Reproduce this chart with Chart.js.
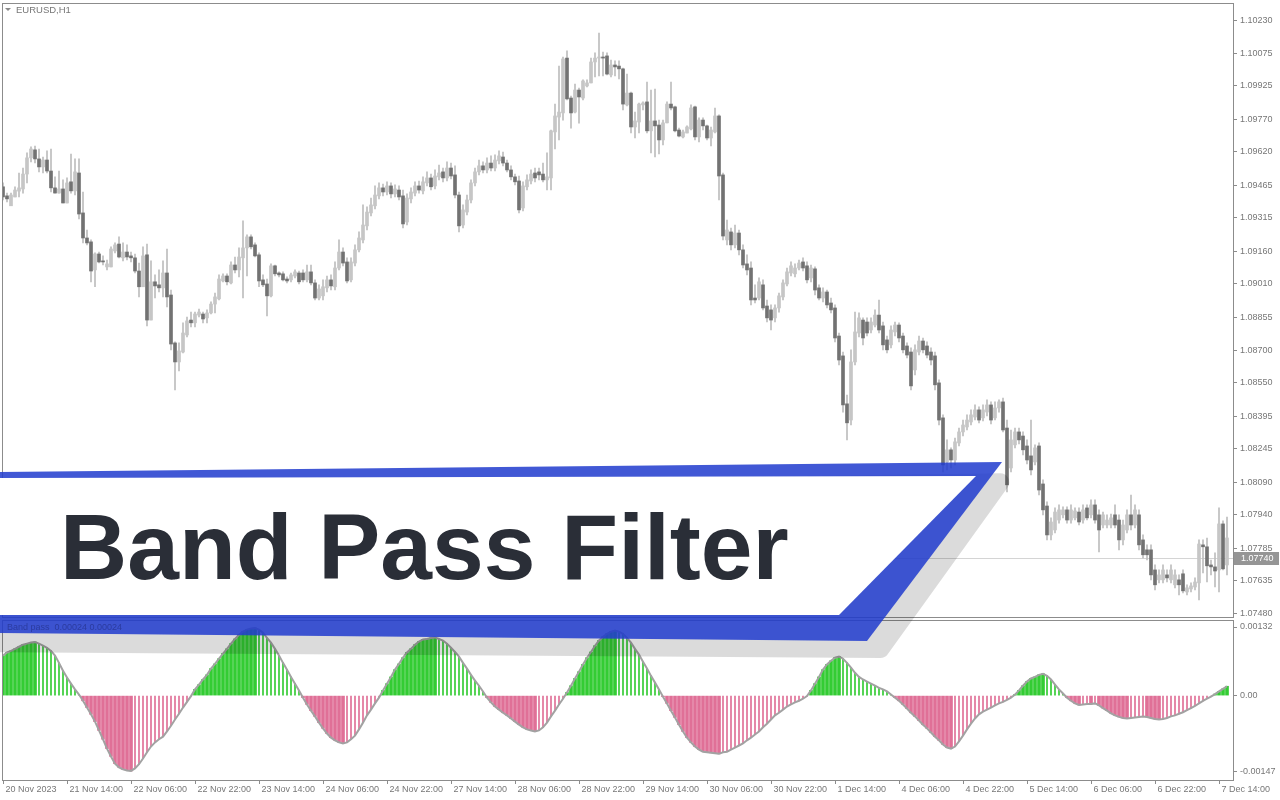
<!DOCTYPE html>
<html>
<head>
<meta charset="utf-8">
<script src="https://cdn.jsdelivr.net/npm/chart.js@4.4.1/dist/chart.umd.min.js"></script>
<style>
  html, body { margin: 0; padding: 0; background: #fff; }
  #wrap { position: relative; width: 1280px; height: 800px; overflow: hidden; background: #fff; }
  canvas { position: absolute; left: 0; }
  #price { top: 0; }
  #osc { top: 619px; }
  #banner { top: 0; pointer-events: none; }
</style>
</head>
<body>
<div id="wrap">
  <canvas id="price" width="1280" height="619"></canvas>
  <canvas id="osc" width="1280" height="181"></canvas>
  <canvas id="banner" width="1280" height="800"></canvas>
</div>
<script>
const symbolLabel = "EURUSD,H1";
const oscLabel = "Band pass  0.00024 0.00024";
const title = "Band Pass Filter";
const lastPrice = 1.07740;

// EURUSD H1 candles, 20 Nov 22:00 -> 7 Dec 16:00
const opens = [
  1.09458,1.09416,1.09370,1.09411,1.09438,1.09448,1.09517,1.09592,1.09629,1.09587,
  1.09550,1.09582,1.09531,1.09453,1.09429,1.09448,1.09383,1.09481,1.09439,1.09522,
  1.09337,1.09221,1.09203,1.09073,1.09147,1.09115,1.09087,1.09087,1.09161,1.09193,
  1.09129,1.09156,1.09138,1.09129,1.09068,1.08995,1.09143,1.08841,1.09018,1.09004,
  1.08990,1.09059,1.08957,1.08735,1.08647,1.08693,1.08772,1.08841,1.08828,1.08864,
  1.08869,1.08851,1.08874,1.08915,1.08939,1.09022,1.09045,1.09013,1.09096,1.09073,
  1.09129,1.09175,1.09226,1.09189,1.09143,1.09027,1.09008,1.08953,1.09092,1.09059,
  1.09055,1.09031,1.09027,1.09045,1.09059,1.09059,1.09027,1.09064,1.09013,1.08943,
  1.08953,1.08990,1.09027,1.08995,1.09082,1.09156,1.09110,1.09027,1.09105,1.09166,
  1.09212,1.09277,1.09337,1.09370,1.09416,1.09453,1.09434,1.09462,1.09425,1.09443,
  1.09416,1.09295,1.09402,1.09429,1.09462,1.09439,1.09476,1.09499,1.09462,1.09504,
  1.09527,1.09499,1.09545,1.09513,1.09420,1.09281,1.09341,1.09397,1.09476,1.09527,
  1.09555,1.09536,1.09568,1.09545,1.09578,1.09596,1.09568,1.09536,1.09504,1.09485,
  1.09360,1.09458,1.09485,1.09522,1.09527,1.09517,1.09490,1.09499,1.09712,1.09781,
  1.09800,1.10054,1.09869,1.09804,1.09906,1.09869,1.09925,1.09939,1.10036,1.10054,
  1.10059,1.10064,1.09976,1.10022,1.10017,1.10004,1.09837,1.09892,1.09735,1.09758,
  1.09837,1.09851,1.09717,1.09763,1.09744,1.09675,1.09754,1.09841,1.09828,1.09721,
  1.09689,1.09707,1.09726,1.09828,1.09689,1.09767,1.09740,1.09684,1.09712,1.09786,
  1.09513,1.09212,1.09249,1.09189,1.09244,1.09166,1.09101,1.09082,1.08943,1.08943,
  1.09004,1.08906,1.08888,1.08851,1.08897,1.08948,1.09008,1.09059,1.09055,1.09082,
  1.09110,1.09092,1.09036,1.09078,1.08990,1.08943,1.08971,1.08920,1.08897,1.08767,
  1.08675,1.08453,1.08378,1.08647,1.08781,1.08841,1.08832,1.08795,1.08818,1.08864,
  1.08814,1.08749,1.08726,1.08786,1.08818,1.08767,1.08721,1.08693,1.08610,1.08693,
  1.08744,1.08721,1.08693,1.08675,1.08550,1.08388,1.08184,1.08240,1.08193,1.08272,
  1.08323,1.08346,1.08369,1.08392,1.08425,1.08388,1.08415,1.08448,1.08388,1.08434,
  1.08462,1.08341,1.08156,1.08263,1.08323,1.08304,1.08258,1.08212,1.08184,1.08258,
  1.08082,1.07980,1.07846,1.07869,1.07915,1.07939,1.07962,1.07915,1.07925,1.07952,
  1.07915,1.07971,1.07939,1.07985,1.07939,1.07892,1.07892,1.07892,1.07939,1.07915,
  1.07823,1.07869,1.07939,1.07892,1.07939,1.07823,1.07777,1.07777,1.07684,1.07638,
  1.07638,1.07661,1.07638,1.07615,1.07638,1.07666,1.07582,1.07596,1.07605,1.07624,
  1.07800,1.07791,1.07707,1.07698,1.07684,1.07897,1.07707
];
const highs = [
  1.09476,1.09429,1.09429,1.09458,1.09522,1.09545,1.09615,1.09643,1.09647,1.09633,
  1.09596,1.09624,1.09633,1.09504,1.09531,1.09490,1.09499,1.09610,1.09587,1.09587,
  1.09434,1.09258,1.09212,1.09152,1.09156,1.09138,1.09119,1.09180,1.09198,1.09226,
  1.09198,1.09189,1.09156,1.09147,1.09105,1.09180,1.09193,1.09115,1.09050,1.09073,
  1.09115,1.09170,1.08980,1.08740,1.08735,1.08828,1.08855,1.08878,1.08878,1.08892,
  1.08878,1.08888,1.08925,1.08966,1.09050,1.09055,1.09055,1.09110,1.09133,1.09175,
  1.09300,1.09235,1.09235,1.09198,1.09152,1.09050,1.09031,1.09101,1.09096,1.09064,
  1.09064,1.09041,1.09059,1.09073,1.09068,1.09073,1.09096,1.09096,1.09027,1.09004,
  1.09027,1.09045,1.09050,1.09110,1.09212,1.09175,1.09129,1.09129,1.09189,1.09249,
  1.09374,1.09365,1.09406,1.09462,1.09476,1.09471,1.09481,1.09476,1.09467,1.09462,
  1.09443,1.09425,1.09453,1.09481,1.09485,1.09504,1.09527,1.09517,1.09536,1.09559,
  1.09545,1.09573,1.09568,1.09555,1.09434,1.09374,1.09420,1.09490,1.09545,1.09582,
  1.09573,1.09592,1.09601,1.09606,1.09624,1.09619,1.09582,1.09555,1.09517,1.09508,
  1.09481,1.09513,1.09536,1.09545,1.09545,1.09568,1.09615,1.09721,1.09841,1.10017,
  1.10059,1.10087,1.09878,1.09934,1.09915,1.09953,1.09953,1.10054,1.10078,1.10170,
  1.10082,1.10078,1.10045,1.10041,1.10041,1.10008,1.09980,1.09897,1.09804,1.09846,
  1.09851,1.09943,1.09906,1.09911,1.09767,1.09767,1.09851,1.09943,1.09832,1.09730,
  1.09721,1.09740,1.09837,1.09832,1.09777,1.09777,1.09744,1.09735,1.09823,1.09791,
  1.09522,1.09304,1.09267,1.09281,1.09258,1.09189,1.09143,1.09110,1.09004,1.09036,
  1.09027,1.08934,1.08911,1.08911,1.08966,1.09027,1.09082,1.09110,1.09101,1.09119,
  1.09129,1.09110,1.09096,1.09087,1.09004,1.08990,1.08980,1.08943,1.08911,1.08781,
  1.08693,1.08494,1.08703,1.08878,1.08874,1.08851,1.08851,1.08851,1.08888,1.08934,
  1.08832,1.08767,1.08814,1.08832,1.08828,1.08781,1.08735,1.08712,1.08726,1.08767,
  1.08758,1.08740,1.08712,1.08693,1.08564,1.08402,1.08286,1.08249,1.08295,1.08341,
  1.08378,1.08402,1.08425,1.08448,1.08439,1.08448,1.08471,1.08462,1.08462,1.08471,
  1.08480,1.08378,1.08332,1.08341,1.08341,1.08323,1.08286,1.08378,1.08263,1.08272,
  1.08101,1.07999,1.07925,1.07971,1.07985,1.07976,1.07976,1.07985,1.07971,1.07971,
  1.07985,1.07985,1.08008,1.08008,1.07962,1.07952,1.07939,1.07943,1.07985,1.07939,
  1.07915,1.07962,1.08031,1.07985,1.07962,1.07846,1.07800,1.07800,1.07707,1.07684,
  1.07707,1.07684,1.07707,1.07684,1.07661,1.07684,1.07615,1.07624,1.07647,1.07823,
  1.07823,1.07832,1.07730,1.07763,1.07971,1.07911,1.07929
];
const lows = [
  1.09397,1.09388,1.09370,1.09411,1.09411,1.09429,1.09476,1.09573,1.09568,1.09527,
  1.09522,1.09522,1.09434,1.09429,1.09429,1.09383,1.09383,1.09429,1.09420,1.09309,
  1.09198,1.09189,1.09018,1.08995,1.09105,1.09096,1.09073,1.09087,1.09152,1.09129,
  1.09115,1.09119,1.09110,1.09059,1.08948,1.08995,1.08814,1.08841,1.08943,1.08971,
  1.08948,1.08902,1.08703,1.08517,1.08605,1.08689,1.08763,1.08809,1.08809,1.08855,
  1.08828,1.08828,1.08869,1.08874,1.08934,1.09018,1.09004,1.09008,1.09059,1.09041,
  1.08943,1.09045,1.09170,1.09133,1.08995,1.08995,1.08860,1.08948,1.09045,1.09041,
  1.09022,1.09013,1.09018,1.09036,1.09008,1.09018,1.09018,1.09004,1.08934,1.08934,
  1.08934,1.08971,1.08980,1.08980,1.09073,1.09092,1.09013,1.09018,1.09092,1.09156,
  1.09198,1.09258,1.09323,1.09355,1.09402,1.09416,1.09420,1.09406,1.09411,1.09397,
  1.09267,1.09281,1.09383,1.09416,1.09429,1.09425,1.09462,1.09443,1.09448,1.09490,
  1.09481,1.09485,1.09494,1.09406,1.09249,1.09267,1.09328,1.09383,1.09462,1.09513,
  1.09522,1.09522,1.09531,1.09531,1.09564,1.09555,1.09527,1.09490,1.09467,1.09337,
  1.09346,1.09443,1.09471,1.09481,1.09490,1.09481,1.09443,1.09443,1.09633,1.09675,
  1.09767,1.09860,1.09730,1.09800,1.09753,1.09860,1.09920,1.09939,1.09967,1.09971,
  1.09971,1.09976,1.09967,1.09971,1.09957,1.09814,1.09832,1.09707,1.09684,1.09707,
  1.09814,1.09707,1.09615,1.09596,1.09610,1.09652,1.09754,1.09814,1.09712,1.09689,
  1.09684,1.09707,1.09721,1.09675,1.09666,1.09721,1.09675,1.09647,1.09707,1.09397,
  1.09212,1.09189,1.09166,1.09175,1.09143,1.09082,1.09050,1.08911,1.08920,1.08934,
  1.08888,1.08832,1.08795,1.08832,1.08878,1.08934,1.08999,1.09045,1.09041,1.09073,
  1.09068,1.09013,1.09018,1.08957,1.08934,1.08925,1.08897,1.08874,1.08740,1.08633,
  1.08415,1.08286,1.08355,1.08633,1.08763,1.08726,1.08767,1.08781,1.08809,1.08781,
  1.08703,1.08689,1.08712,1.08767,1.08740,1.08689,1.08666,1.08517,1.08587,1.08679,
  1.08689,1.08666,1.08633,1.08517,1.08355,1.08138,1.08147,1.08156,1.08170,1.08258,
  1.08304,1.08332,1.08355,1.08378,1.08365,1.08374,1.08397,1.08360,1.08378,1.08415,
  1.08323,1.08045,1.08138,1.08249,1.08267,1.08217,1.08175,1.08124,1.08170,1.08031,
  1.07939,1.07823,1.07823,1.07855,1.07901,1.07925,1.07901,1.07901,1.07915,1.07892,
  1.07901,1.07915,1.07925,1.07901,1.07767,1.07878,1.07878,1.07878,1.07878,1.07777,
  1.07800,1.07855,1.07869,1.07878,1.07777,1.07740,1.07730,1.07638,1.07591,1.07624,
  1.07624,1.07628,1.07624,1.07601,1.07568,1.07578,1.07568,1.07582,1.07591,1.07545,
  1.07670,1.07628,1.07661,1.07605,1.07582,1.07684,1.07661
];
const closes = [
  1.09411,1.09402,1.09420,1.09443,1.09453,1.09517,1.09592,1.09633,1.09587,1.09550,
  1.09582,1.09531,1.09453,1.09429,1.09448,1.09383,1.09476,1.09439,1.09527,1.09332,
  1.09221,1.09198,1.09068,1.09147,1.09110,1.09110,1.09101,1.09170,1.09189,1.09133,
  1.09156,1.09133,1.09129,1.09068,1.08995,1.09138,1.08841,1.09018,1.08999,1.08990,
  1.09059,1.08948,1.08730,1.08647,1.08698,1.08781,1.08837,1.08828,1.08869,1.08878,
  1.08846,1.08874,1.08915,1.08948,1.09031,1.09045,1.09018,1.09096,1.09073,1.09133,
  1.09175,1.09226,1.09180,1.09138,1.09022,1.09004,1.08953,1.09092,1.09055,1.09050,
  1.09027,1.09022,1.09050,1.09064,1.09018,1.09027,1.09064,1.09013,1.08943,1.08985,
  1.08995,1.09027,1.08999,1.09082,1.09156,1.09105,1.09022,1.09110,1.09166,1.09221,
  1.09281,1.09341,1.09374,1.09420,1.09453,1.09434,1.09462,1.09425,1.09448,1.09411,
  1.09286,1.09406,1.09434,1.09462,1.09443,1.09481,1.09499,1.09458,1.09508,1.09522,
  1.09499,1.09545,1.09508,1.09420,1.09277,1.09351,1.09397,1.09476,1.09527,1.09555,
  1.09536,1.09568,1.09545,1.09582,1.09601,1.09568,1.09536,1.09504,1.09481,1.09351,
  1.09462,1.09490,1.09517,1.09499,1.09513,1.09490,1.09504,1.09717,1.09786,1.09804,
  1.10050,1.09865,1.09800,1.09906,1.09874,1.09948,1.09939,1.10036,1.10054,1.10059,
  1.10054,1.09980,1.10022,1.10013,1.10004,1.09841,1.09892,1.09735,1.09763,1.09841,
  1.09846,1.09717,1.09763,1.09740,1.09675,1.09754,1.09841,1.09823,1.09717,1.09693,
  1.09712,1.09735,1.09823,1.09689,1.09767,1.09740,1.09684,1.09721,1.09786,1.09508,
  1.09230,1.09258,1.09189,1.09244,1.09166,1.09096,1.09073,1.08934,1.08934,1.09018,
  1.08897,1.08851,1.08841,1.08897,1.08953,1.09013,1.09064,1.09092,1.09082,1.09105,
  1.09082,1.09027,1.09082,1.08980,1.08943,1.08971,1.08911,1.08888,1.08758,1.08656,
  1.08448,1.08365,1.08647,1.08786,1.08851,1.08758,1.08781,1.08832,1.08864,1.08795,
  1.08726,1.08703,1.08795,1.08818,1.08758,1.08703,1.08679,1.08536,1.08703,1.08744,
  1.08703,1.08679,1.08656,1.08541,1.08378,1.08170,1.08240,1.08193,1.08277,1.08323,
  1.08355,1.08378,1.08402,1.08425,1.08378,1.08425,1.08448,1.08378,1.08434,1.08462,
  1.08332,1.08078,1.08286,1.08323,1.08286,1.08240,1.08193,1.08147,1.08249,1.08054,
  1.07962,1.07846,1.07906,1.07952,1.07962,1.07962,1.07915,1.07962,1.07957,1.07906,
  1.07962,1.07925,1.07985,1.07915,1.07869,1.07939,1.07915,1.07925,1.07892,1.07823,
  1.07892,1.07939,1.07892,1.07962,1.07800,1.07754,1.07754,1.07661,1.07615,1.07661,
  1.07684,1.07647,1.07684,1.07661,1.07615,1.07587,1.07601,1.07610,1.07628,1.07804,
  1.07791,1.07703,1.07698,1.07679,1.07897,1.07689,1.07832
];

// band pass output, in points (1 point = 0.00001)
const bandPassPts = [
  77,83,86,90,94,98,100,102,103,100,
  96,92,86,77,63,48,35,23,12,2,
  -10,-23,-36,-50,-67,-84,-102,-117,-131,-138,
  -142,-144,-145,-140,-132,-121,-109,-98,-90,-84,
  -79,-69,-58,-46,-35,-23,-12,-1,12,21,
  31,40,52,61,71,81,90,100,109,117,
  123,127,129,130,127,121,111,102,90,77,
  63,50,36,23,10,-4,-17,-29,-40,-52,
  -63,-73,-81,-86,-90,-92,-90,-84,-77,-65,
  -52,-38,-27,-15,-4,10,23,36,50,61,
  73,83,90,98,104,108,109,111,112,109,
  106,100,92,84,75,63,52,40,29,19,
  8,-4,-13,-21,-27,-33,-38,-44,-50,-56,
  -61,-65,-67,-69,-67,-61,-52,-40,-29,-17,
  -6,6,19,33,46,60,73,84,96,106,
  113,119,123,125,123,119,111,102,90,79,
  65,52,38,25,12,-2,-15,-29,-42,-56,
  -69,-81,-90,-98,-104,-108,-109,-110,-111,-112,
  -109,-108,-104,-100,-96,-92,-86,-81,-75,-69,
  -61,-54,-46,-38,-33,-27,-21,-17,-13,-10,
  -6,-1,10,23,36,50,60,67,73,75,
  71,63,54,44,36,31,27,23,19,15,
  12,8,2,-4,-10,-17,-25,-33,-40,-48,
  -56,-63,-71,-79,-86,-94,-100,-102,-98,-88,
  -77,-65,-54,-44,-36,-31,-27,-23,-19,-15,
  -12,-8,-4,2,10,19,27,33,36,40,
  42,38,31,21,12,4,-4,-10,-15,-18,
  -17,-16,-16,-15,-19,-24,-29,-34,-38,-41,
  -43,-44,-43,-42,-41,-40,-41,-43,-45,-46,
  -45,-43,-40,-38,-35,-32,-28,-24,-20,-15,
  -10,-6,-2,3,8,13,18
];

const priceTicks = [1.10230,1.10075,1.09925,1.09770,1.09620,1.09465,1.09315,1.09160,1.09010,
  1.08855,1.08700,1.08550,1.08395,1.08245,1.08090,1.07940,1.07785,1.07635,1.07480];
const oscTicks = [0.00132, 0, -0.00147];
const timeLabels = ["20 Nov 2023","21 Nov 14:00","22 Nov 06:00","22 Nov 22:00","23 Nov 14:00",
  "24 Nov 06:00","24 Nov 22:00","27 Nov 14:00","28 Nov 06:00","28 Nov 22:00","29 Nov 14:00",
  "30 Nov 06:00","30 Nov 22:00","1 Dec 14:00","4 Dec 06:00","4 Dec 22:00","5 Dec 14:00",
  "6 Dec 06:00","6 Dec 22:00","7 Dec 14:00"];
const timeLabelBars = [0,16,32,48,64,80,96,112,128,144,160,176,192,208,224,240,256,272,288,304];

const FONT = '"Liberation Sans", Arial, sans-serif';
const AXIS = '#8c8c8c';
const TEXT = '#777777';

// split candles into bull / bear
const candles = opens.map((o, i) => ({ i, o, h: highs[i], l: lows[i], c: closes[i] }));
const bull = candles.filter(k => k.c >= k.o);
const bear = candles.filter(k => k.c < k.o);

// histogram buckets: thick when moving away from zero, thin when returning
const bandPass = bandPassPts.map(p => p / 100000);
const rows = bandPass.map((v, i) => ({ x: i, y: v, up: i === 0 || v > bandPass[i - 1] }));
const upThick = rows.filter(r => r.y >= 0 && r.up);
const upThin = rows.filter(r => r.y >= 0 && !r.up);
const dnThick = rows.filter(r => r.y < 0 && !r.up);
const dnThin = rows.filter(r => r.y < 0 && r.up);

const frame = {
  id: 'frame',
  afterDraw(chart) {
    const { ctx, chartArea: a } = chart;
    ctx.save();
    ctx.strokeStyle = AXIS;
    ctx.lineWidth = 1;
    ctx.strokeRect(a.left + 0.5, a.top + 0.5, a.right - a.left, a.bottom - a.top);
    ctx.restore();
  }
};

const priceDecor = {
  id: 'priceDecor',
  beforeDatasetsDraw(chart) {
    const { ctx, chartArea: a, scales: { y } } = chart;
    const py = Math.round(y.getPixelForValue(lastPrice)) + 0.5;
    ctx.save();
    ctx.strokeStyle = '#d4d4d4';
    ctx.lineWidth = 1;
    ctx.beginPath();
    ctx.moveTo(a.left, py);
    ctx.lineTo(a.right, py);
    ctx.stroke();
    ctx.restore();
  },
  afterDraw(chart) {
    const { ctx, chartArea: a, scales: { y } } = chart;
    const py = Math.round(y.getPixelForValue(lastPrice));
    ctx.save();
    ctx.fillStyle = '#959595';
    ctx.fillRect(a.right + 1, py - 6, 45, 13);
    ctx.fillStyle = '#ffffff';
    ctx.font = '9px ' + FONT;
    ctx.textBaseline = 'middle';
    ctx.fillText(lastPrice.toFixed(5), a.right + 8, py + 1);
    // symbol caption
    ctx.fillStyle = '#8a8a8a';
    ctx.beginPath();
    ctx.moveTo(5, 8); ctx.lineTo(11, 8); ctx.lineTo(8, 11); ctx.closePath();
    ctx.fill();
    ctx.fillStyle = TEXT;
    ctx.font = '9.5px ' + FONT;
    ctx.fillText(symbolLabel, 16, 10);
    ctx.restore();
  }
};

const xRange = { min: -0.25, max: 307.5 };

new Chart(document.getElementById('price'), {
  type: 'bar',
  data: {
    datasets: [
      { label: 'wick', data: candles.map(k => ({ x: k.i, y: [k.l, k.h] })),
        backgroundColor: '#bdbdbd', barThickness: 1, order: 2 },
      { label: 'bull', data: bull.map(k => ({ x: k.i, y: [k.o, k.c] })),
        backgroundColor: '#c6c6c6', barThickness: 3, minBarLength: 1, order: 1 },
      { label: 'bear', data: bear.map(k => ({ x: k.i, y: [k.o, k.c] })),
        backgroundColor: '#727272', barThickness: 3, minBarLength: 1, order: 0 }
    ]
  },
  options: {
    responsive: false,
    animation: false,
    devicePixelRatio: 1,
    events: [],
    datasets: { bar: { grouped: false } },
    layout: { padding: { left: 2, top: 3, right: 0, bottom: 2 } },
    plugins: { legend: { display: false }, tooltip: { enabled: false } },
    scales: {
      x: { type: 'linear', display: false, offset: false, min: xRange.min, max: xRange.max,
           grid: { offset: false } },
      y: {
        position: 'right', min: 1.07466, max: 1.10309,
        afterBuildTicks: s => { s.ticks = priceTicks.map(v => ({ value: v })); },
        afterFit: s => { s.width = 47; s.paddingTop = 0; s.paddingBottom = 0; },
        border: { display: false },
        grid: { drawOnChartArea: false, drawTicks: true, tickLength: 4, color: AXIS },
        ticks: { padding: 3, color: TEXT, font: { family: FONT, size: 9 },
                 callback: v => v.toFixed(5) }
      }
    }
  },
  plugins: [priceDecor, frame]
});

new Chart(document.getElementById('osc'), {
  type: 'bar',
  data: {
    datasets: [
      { type: 'line', label: 'band pass', data: rows.map(r => ({ x: r.x, y: r.y })),
        borderColor: '#a2a2a2', borderWidth: 2, pointRadius: 0, tension: 0, order: 0 },
      { label: 'up', data: upThick, backgroundColor: '#33cc33', barThickness: 3, order: 1 },
      { label: 'up fade', data: upThin, backgroundColor: '#33cc33', barThickness: 1, order: 1 },
      { label: 'down', data: dnThick, backgroundColor: '#e07097', barThickness: 3, order: 1 },
      { label: 'down fade', data: dnThin, backgroundColor: '#e07097', barThickness: 1, order: 1 }
    ]
  },
  options: {
    responsive: false,
    animation: false,
    devicePixelRatio: 1,
    events: [],
    datasets: { bar: { grouped: false } },
    layout: { padding: { left: 2, top: 1, right: 0, bottom: 0 } },
    plugins: { legend: { display: false }, tooltip: { enabled: false } },
    scales: {
      x: {
        type: 'linear', offset: false, min: xRange.min, max: xRange.max,
        afterBuildTicks: s => { s.ticks = timeLabelBars.map(v => ({ value: v })); },
        afterFit: s => { s.height = 20; s.paddingLeft = 0; s.paddingRight = 0; },
        border: { display: false },
        grid: { offset: false, drawOnChartArea: false, drawTicks: true, tickLength: 4, color: AXIS },
        ticks: { autoSkip: false, maxRotation: 0, align: 'start', padding: 0, color: TEXT,
                 font: { family: FONT, size: 9 },
                 callback: (v, i) => ' ' + timeLabels[i] }
      },
      y: {
        position: 'right', min: -0.001624, max: 0.001455,
        afterBuildTicks: s => { s.ticks = oscTicks.map(v => ({ value: v })); },
        afterFit: s => { s.width = 47; s.paddingTop = 0; s.paddingBottom = 0; },
        border: { display: false },
        grid: { drawOnChartArea: false, drawTicks: true, tickLength: 4, color: AXIS },
        ticks: { padding: 3, color: TEXT, font: { family: FONT, size: 9 },
                 callback: v => v === 0 ? '0.00' : v.toFixed(5) }
      }
    }
  },
  plugins: [frame]
});

// title banner laid over both panels
function roundPoly(ctx, pts, r) {
  const n = pts.length;
  const m = [(pts[n - 1][0] + pts[0][0]) / 2, (pts[n - 1][1] + pts[0][1]) / 2];
  ctx.beginPath();
  ctx.moveTo(m[0], m[1]);
  for (let i = 0; i < n; i++) {
    const p = pts[i], q = pts[(i + 1) % n];
    ctx.arcTo(p[0], p[1], q[0], q[1], r);
  }
  ctx.closePath();
}

(function drawBanner() {
  const ctx = document.getElementById('banner').getContext('2d');
  ctx.fillStyle = 'rgba(0,0,0,0.14)';
  roundPoly(ctx, [[-30, 487], [1018, 473], [885, 658], [-30, 652]], 9);
  ctx.fill();

  ctx.fillStyle = 'rgba(34,60,206,0.86)';
  ctx.beginPath();
  ctx.moveTo(-2, 472); ctx.lineTo(1002, 462); ctx.lineTo(867, 641); ctx.lineTo(-2, 633);
  ctx.closePath();
  ctx.fill();

  ctx.fillStyle = '#ffffff';
  ctx.beginPath();
  ctx.moveTo(-2, 478); ctx.lineTo(976, 476); ctx.lineTo(839, 615); ctx.lineTo(-2, 615);
  ctx.closePath();
  ctx.fill();

  ctx.fillStyle = '#2a2e37';
  ctx.font = 'bold 93px ' + FONT;
  ctx.textBaseline = 'alphabetic';
  ctx.fillText(title, 60, 579);

  ctx.fillStyle = 'rgba(30,40,120,0.55)';
  ctx.font = '9px ' + FONT;
  ctx.textBaseline = 'middle';
  ctx.fillText(oscLabel, 7, 628);
})();
</script>
</body>
</html>
